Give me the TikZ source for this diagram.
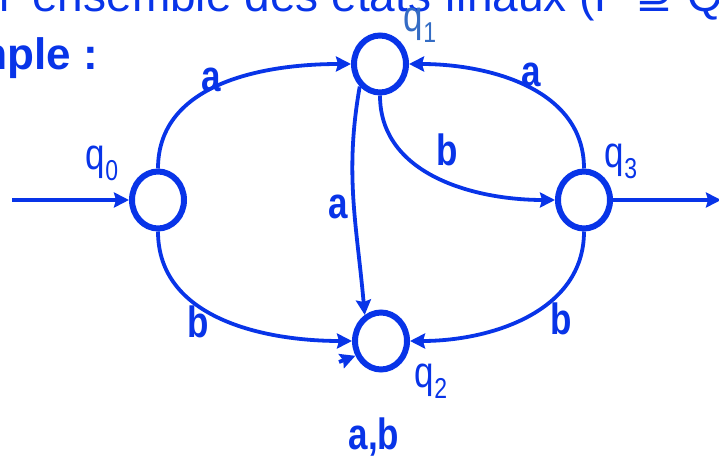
\documentclass[tikz,border=0pt]{standalone}
\usepackage{fontspec}
\setmainfont{Liberation Sans}
\newfontfamily\symfont{DejaVu Sans}
\usepackage{graphicx}
\usepackage{tikz}
\usetikzlibrary{arrows.meta, positioning, shapes.geometric}

\definecolor{autblue}{RGB}{8,52,232}
\definecolor{namblue}{RGB}{52,108,196}

% letters of the slide are drawn a bit taller than wide
\newcommand{\tall}[1]{\scalebox{1}[1.25]{#1}}
% state name with its index
\newcommand{\qname}[1]{\tall{q\raisebox{-9pt}{\fontsize{23}{23}\selectfont #1}}}

\begin{document}
\begin{tikzpicture}[x=1pt,y=1pt,
    state/.style={ellipse, draw=autblue, line width=6pt, minimum width=52pt, minimum height=57pt, inner sep=0pt},
    trans/.style={draw=autblue, line width=3.8pt, -{Stealth[length=15pt,width=15pt,inset=2pt]}},
    sym/.style={text=autblue, font=\bfseries\fontsize{35}{35}\selectfont, inner sep=0pt},
    sname/.style={text=autblue, font=\fontsize{35}{35}\selectfont, inner sep=0pt}]

  \clip (0,0) rectangle (719,457);

  % slide text, cut off by the frame
  \node[anchor=base west, text=autblue, font=\fontsize{46}{46}\selectfont, inner sep=0pt] (title) at (-1,445) {l' ensemble des états finaux (F {\symfont ⊇} Q)};
  \node[anchor=base west, text=autblue, font=\bfseries\fontsize{44}{44}\selectfont, inner sep=0pt] (exmp) at (-110,387) {Exemple :};

  % states
  \node[state] (q0) at (158,257) {};
  \node[state] (q1) at (380,393) {};
  \node[state] (q2) at (381,116) {};
  \node[state] (q3) at (584,257) {};

  % state names
  \node[sname] (n0) at (102,294) {\qname{0}};
  \node[sname, text=namblue] (n1) at (420,432) {\qname{1}};
  \node[sname] (n2) at (431,76) {\qname{2}};
  \node[sname] (n3) at (621,296) {\qname{3}};

  % entry and exit
  \coordinate (entry) at (12,257);
  \coordinate (exit) at (721,257);
  \draw[trans] (entry) -- (q0.west);
  \draw[trans] (q3.east) -- (exit);

  % transitions
  \draw[trans] (q0.north) to[out=90, in=180] (q1.west);
  \draw[trans] (q3.north) to[out=90, in=0] (q1.east);
  \draw[trans] (q1.south) to[out=-90, in=180] (q3.west);
  \draw[trans] (q1.228) to[out=-100, in=95] (q2.122);
  \draw[trans] (q0.south) to[out=-90, in=180] (q2.west);
  \draw[trans] (q3.south) to[out=-90, in=0] (q2.east);

  % loop on q2 (only its head shows)
  \coordinate (loopin) at (339,95);
  \draw[trans] (loopin) -- (q2.210);

  % letters
  \node[sym] (l01) at (211,377) {\tall{a}};
  \node[sym] (l31) at (531,382) {\tall{a}};
  \node[sym] (l13) at (447,307) {\tall{b}};
  \node[sym] (l12) at (338,250) {\tall{a}};
  \node[sym] (l02) at (198,135) {\tall{b}};
  \node[sym] (l32) at (561,138) {\tall{b}};
  \node[sym] (l22) at (374,20) {\tall{a,b}};
\end{tikzpicture}
\end{document}
